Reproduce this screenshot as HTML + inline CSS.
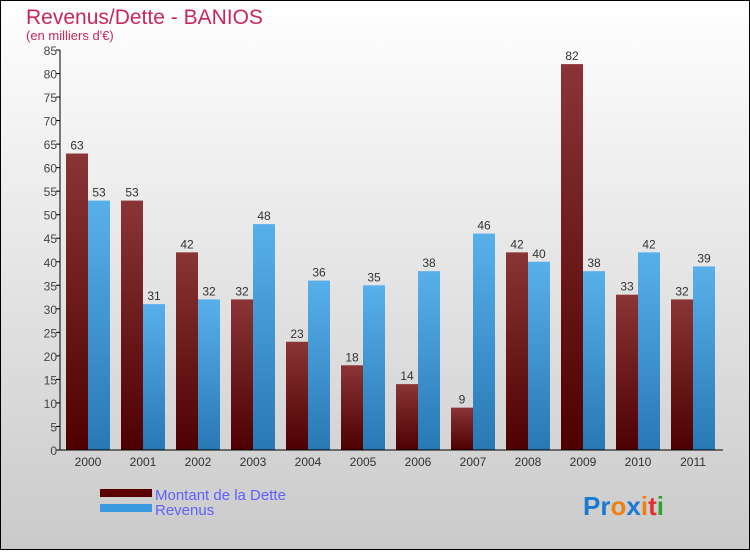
<!DOCTYPE html>
<html><head><meta charset="utf-8"><style>
body{margin:0;width:750px;height:550px;overflow:hidden;font-family:"Liberation Sans",sans-serif}
</style></head><body>
<svg id="chart" width="750" height="550" xmlns="http://www.w3.org/2000/svg">
<defs>
<linearGradient id="bg" x1="0" y1="0" x2="0" y2="1"><stop offset="0" stop-color="#ffffff"/><stop offset="1" stop-color="#cacaca"/></linearGradient>
<linearGradient id="gd" x1="0" y1="0" x2="0" y2="1"><stop offset="0" stop-color="#8a3436"/><stop offset="1" stop-color="#4e0000"/></linearGradient>
<linearGradient id="gr" x1="0" y1="0" x2="0" y2="1"><stop offset="0" stop-color="#58b0ea"/><stop offset="1" stop-color="#2878b4"/></linearGradient>
</defs>
<rect x="0.5" y="0.5" width="749" height="549" fill="url(#bg)" stroke="#000"/>
<text x="26" y="24" font-size="21" fill="#c8285a">Revenus/Dette - BANIOS</text>
<text x="26" y="40" font-size="13" fill="#c8285a">(en milliers d'€)</text>
<g id="plot"></g>
<g>
<rect x="100" y="489" width="52" height="8" fill="#5a0000"/>
<text x="155" y="500" font-size="15" fill="#6060ff">Montant de la Dette</text>
<rect x="100" y="504" width="52" height="8" fill="#3a9ae0"/>
<text x="155" y="515" font-size="15" fill="#6060ff">Revenus</text>
</g>
<text x="583" y="515" font-size="26" font-weight="bold"><tspan fill="#1a7ad0">Pr</tspan><tspan fill="#f08010">o</tspan><tspan fill="#1a7ad0">x</tspan><tspan fill="#f08010">i</tspan><tspan fill="#e03030">t</tspan><tspan fill="#30a030">i</tspan></text>
</svg>
<script>
const years=["2000","2001","2002","2003","2004","2005","2006","2007","2008","2009","2010","2011"];
const dette=[63,53,42,32,23,18,14,9,42,82,33,32];
const revenus=[53,31,32,48,36,35,38,46,40,38,42,39];
const yTicks=[0,5,10,15,20,25,30,35,40,45,50,55,60,65,70,75,80,85];
const NS="http://www.w3.org/2000/svg";
const g=document.getElementById('plot');
const x0=60,x1=720,yBase=450,yTop=50,yMax=85;
const step=(x1-x0)/years.length,bw=22;
const y=v=>yBase-v/yMax*(yBase-yTop);
const xg=i=>x0+i*step+6;
function mk(t,a,txt){const e=document.createElementNS(NS,t);for(const k in a)e.setAttribute(k,a[k]);if(txt!=null)e.textContent=txt;g.appendChild(e);return e;}
yTicks.forEach(v=>{
 const l=mk('line',{x1:x0-4,x2:x0,y1:y(v),y2:y(v),stroke:'#000'});
 
 
 const t=mk('text',{x:x0-3,y:y(v)+5,'text-anchor':'end','font-size':12,fill:'#444'},v);
 
 
});
years.forEach((yr,i)=>{
 const bx=xg(i);
 const a=mk('rect',{x:bx,y:y(dette[i]),width:bw,height:yBase-y(dette[i]),fill:'url(#gd)'});
 
 
 const b=mk('rect',{x:bx+bw,y:y(revenus[i]),width:bw,height:yBase-y(revenus[i]),fill:'url(#gr)'});
 
 
 const la=mk('text',{x:bx+bw/2,y:y(dette[i])-4,'text-anchor':'middle','font-size':12,fill:'#333'},dette[i]);
 
 
 const lb=mk('text',{x:bx+bw*1.5,y:y(revenus[i])-4,'text-anchor':'middle','font-size':12,fill:'#333'},revenus[i]);
 
 
 const xt=mk('text',{x:bx+bw,y:466,'text-anchor':'middle','font-size':12,fill:'#333'},yr);
 
 
});
const ya=mk('line',{x1:x0,x2:x0,y1:yTop,y2:yBase,stroke:'#000'});


const xa=mk('line',{x1:x0,x2:x1+3,y1:yBase,y2:yBase,stroke:'#000'});


</script>
</body></html>
